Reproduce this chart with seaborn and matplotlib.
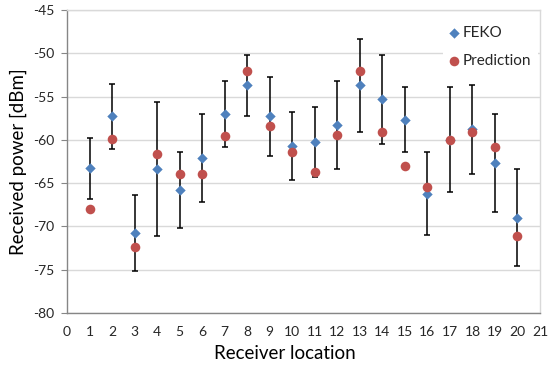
import numpy as np
import pandas as pd
import matplotlib
matplotlib.use("Agg")
import matplotlib.pyplot as plt
import seaborn as sns

locations = list(range(1, 21))
feko = [-63.3, -57.3, -70.8, -63.4, -65.8, -62.1, -57.0, -53.7, -57.3, -60.7,
        -60.2, -58.3, -53.7, -55.3, -57.7, -66.2, -60.0, -58.8, -62.7, -69.0]
prediction = [-68.0, -59.9, -72.4, -61.6, -63.9, -64.0, -59.6, -52.0, -58.4, -61.4,
              -63.7, -59.4, -52.0, -59.1, -63.0, -65.4, -60.0, -59.1, -60.8, -71.1]
error = [3.5, 3.8, 4.4, 7.75, 4.4, 5.1, 3.8, 3.55, 4.6, 3.9,
         4.05, 5.05, 5.4, 5.15, 3.75, 4.77, 6.05, 5.1, 5.65, 5.6]
x_ticks = list(range(0, 22))
y_ticks = [-80, -75, -70, -65, -60, -55, -50, -45]

sns.set_style("white")
plt.rcParams['font.family'] = ['Lato', 'DejaVu Sans']

fig = plt.figure(figsize=(5.5, 3.68), dpi=100)
ax = fig.add_axes([67/550, 1-313/368, (540-67)/550, (313-10)/368])

ax.errorbar(locations, feko, yerr=error, fmt='none', ecolor='black',
            elinewidth=1.1, capsize=2, capthick=1.1, zorder=2)
sns.scatterplot(x=locations, y=feko, marker='D', s=28, color='#4F81BD',
                linewidth=0, label='FEKO', ax=ax, zorder=3)
sns.scatterplot(x=locations, y=prediction, marker='o', s=48, color='#C0504D',
                linewidth=0, label='Prediction', ax=ax, zorder=4)

ax.set_xlim(0, 21)
ax.set_ylim(-80, -45)
ax.set_xticks(x_ticks)
ax.set_yticks(y_ticks)
ax.set_xticklabels([str(v) for v in x_ticks])
ax.set_yticklabels([str(v) for v in y_ticks])
ax.grid(axis='y', color='#D9D9D9', linewidth=1)
ax.grid(axis='x', visible=False)
ax.set_axisbelow(True)

for s in ['left', 'bottom']:
    ax.spines[s].set_color('#868686')
    ax.spines[s].set_linewidth(1)
for s in ['top', 'right']:
    ax.spines[s].set_color('#D9D9D9')
    ax.spines[s].set_linewidth(1)

ax.tick_params(axis='x', direction='in', length=4, color='#868686',
               labelsize=10, pad=9, labelcolor='#262626')
ax.tick_params(axis='y', direction='out', length=4, color='#868686',
               labelsize=10, pad=5, labelcolor='#262626', left=True)

ax.set_xlabel('Receiver location', fontsize=13.5, color='#000000')
ax.set_ylabel('Received power [dBm]', fontsize=13.5, color='#000000')
ax.xaxis.set_label_coords(0.461, -0.105)
ax.yaxis.set_label_coords(-0.085, 0.5)

handles, labels = ax.get_legend_handles_labels()
leg = ax.legend(handles, labels, loc='upper left', bbox_to_anchor=(0.795, 0.968),
                frameon=True, fancybox=False, framealpha=1, edgecolor='none',
                facecolor='white', fontsize=11, handlelength=0.6,
                handletextpad=0.3, labelspacing=0.95, borderpad=0.4,
                borderaxespad=0)

fig.savefig('out.png', dpi=100)
